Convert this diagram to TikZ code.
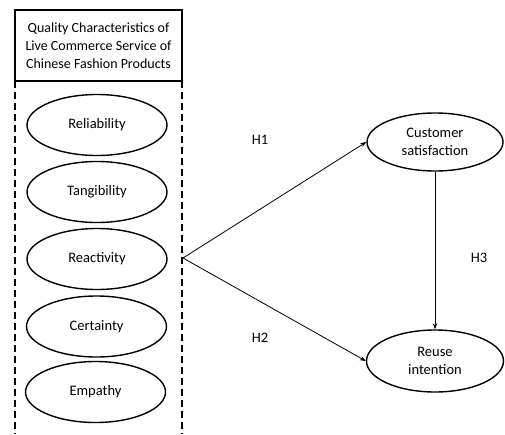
\documentclass[tikz,border=0pt]{standalone}
\usepackage{fontspec}
\setmainfont{Carlito}
\usetikzlibrary{shapes.geometric,arrows.meta}
\begin{document}
\begin{tikzpicture}[x=1pt,y=-1pt,
  oval/.style={draw,ellipse,line width=1.4pt,minimum width=140pt,minimum height=61pt,inner sep=0pt,font=\fontsize{14.5}{18}\selectfont,align=center},
  conn/.style={line width=0.8pt,-{Stealth[length=6pt,width=4.5pt]}},
  lbl/.style={font=\fontsize{14.5}{17}\selectfont},
  dashline/.style={line width=1.6pt,dash pattern=on 7pt off 4pt}]
\useasboundingbox (0,0) rectangle (505,434);
\node[draw,line width=1.3pt,minimum width=167pt,minimum height=71pt,inner sep=0pt,align=center,font=\fontsize{14}{18}\selectfont] (box) at (98.5,45.5) {Quality Characteristics of\\Live Commerce Service of\\Chinese Fashion Products};
\coordinate (dl) at (15,81);
\coordinate (dr) at (182,81);
\coordinate (dlb) at (15,434);
\coordinate (drb) at (182,434);
\draw[dashline] (dl) -- (dlb);
\draw[dashline] (dr) -- (drb);
\node[oval] (rel) at (97,125) {Reliability};
\node[oval] (tan) at (97,192) {Tangibility};
\node[oval] (rea) at (97,259) {Reactivity};
\node[oval] (cer) at (96.5,326.5) {Certainty};
\node[oval] (emp) at (95.5,392) {Empathy};
\node[oval,minimum width=136pt,minimum height=58pt] (cs) at (435,142) {Customer\\satisfaction};
\node[oval,minimum width=137pt,minimum height=62pt] (ri) at (435,361) {Reuse\\intention};
\coordinate (src) at (183,258);
\draw[conn] (src) -- (cs.west);
\draw[conn] (src) -- (ri.west);
\draw[conn] (cs.south) -- (ri.north);
\node[lbl] (h1) at (260,140) {H1};
\node[lbl] (h2) at (260,338) {H2};
\node[lbl] (h3) at (479,258) {H3};
\end{tikzpicture}
\end{document}
